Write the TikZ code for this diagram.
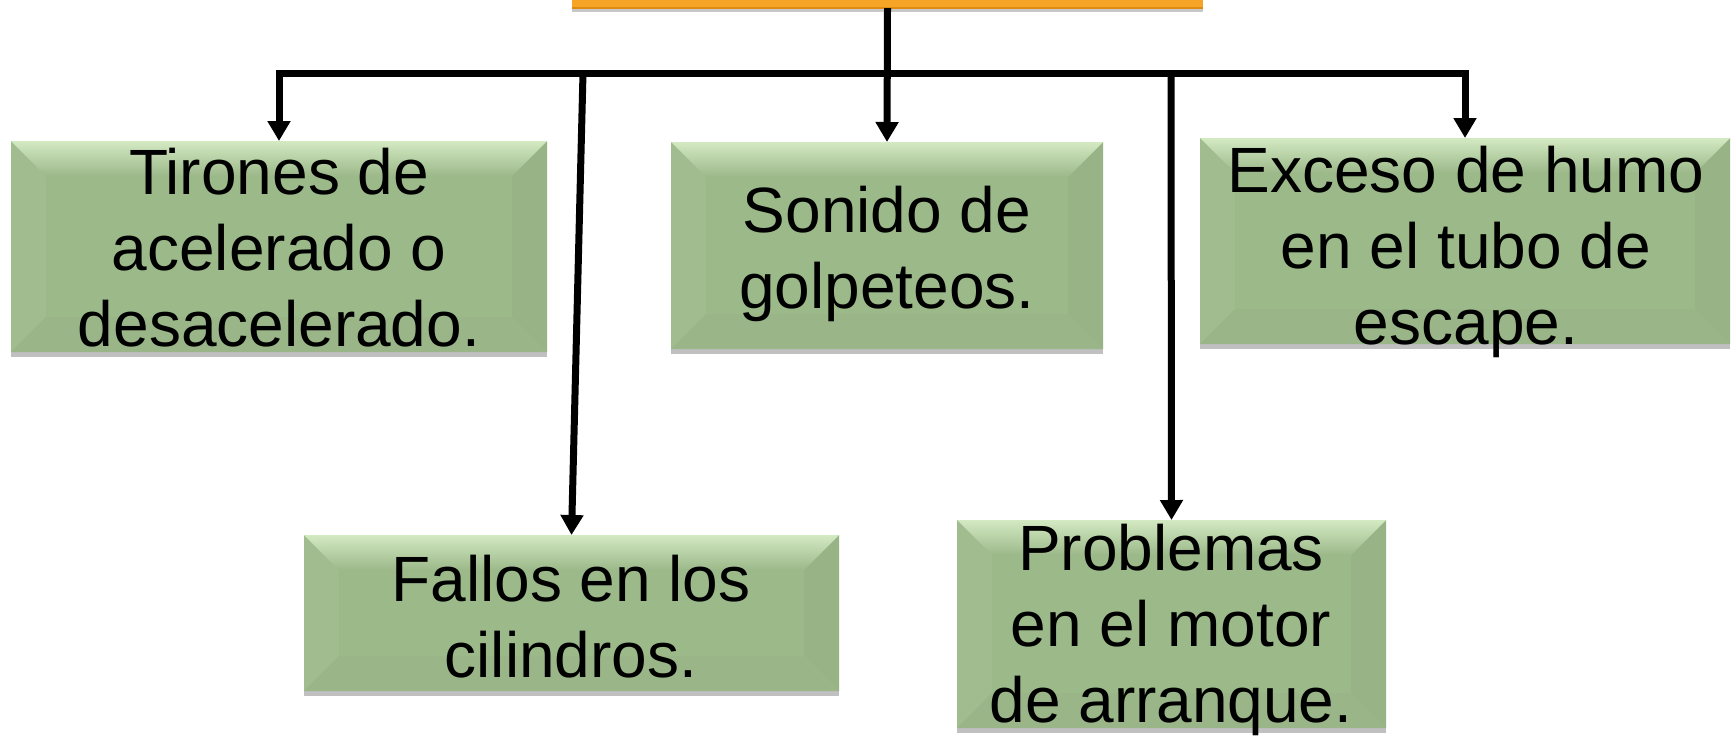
\documentclass[tikz,border=0pt]{standalone}
\usepackage{fontspec}
\setmainfont{Liberation Sans}
\usetikzlibrary{arrows.meta,shadows}
\definecolor{gface}{HTML}{9CB98A}
\definecolor{gtop}{HTML}{D3E9C2}
\definecolor{gleft}{HTML}{A1BC8E}
\definecolor{gright}{HTML}{98B486}
\definecolor{gbot}{HTML}{9AB688}
\definecolor{orfill}{HTML}{F5A425}
\definecolor{oredge}{HTML}{E08A12}
\newcommand\mlines[1]{\vtop{\halign{\hfil##\hfil\cr#1\crcr}}}
\begin{document}
\begin{tikzpicture}[x=1pt,y=-1pt,
  gbox/.style={draw=none, fill=gface, inner sep=0pt, outer sep=0pt,
    drop shadow={shadow xshift=0pt,shadow yshift=-5pt,opacity=0.35,fill=black!70},
    path picture={
      \coordinate (NW) at (path picture bounding box.north west);
      \coordinate (NE) at (path picture bounding box.north east);
      \coordinate (SW) at (path picture bounding box.south west);
      \coordinate (SE) at (path picture bounding box.south east);
      \fill[gleft] (NW) -- ([xshift=35pt,yshift=-35pt]NW) -- ([xshift=35pt,yshift=35pt]SW) -- (SW) -- cycle;
      \fill[gright] (NE) -- ([xshift=-35pt,yshift=-35pt]NE) -- ([xshift=-35pt,yshift=35pt]SE) -- (SE) -- cycle;
      \fill[gbot] (SW) -- ([xshift=35pt,yshift=35pt]SW) -- ([xshift=-35pt,yshift=35pt]SE) -- (SE) -- cycle;
      \fill[gface] ([xshift=35pt,yshift=-35pt]NW) rectangle ([xshift=-35pt,yshift=35pt]SE);
      \shade[top color=gtop,bottom color=gface] (NW) -- (NE) -- ([xshift=-35pt,yshift=-35pt]NE) -- ([xshift=35pt,yshift=-35pt]NW) -- cycle;
    }},
  txt/.style={inner sep=0pt, anchor=base, font=\fontsize{64}{76}\selectfont},
  conn/.style={line width=7pt, line join=miter},
  tip/.style={-{Triangle[length=20pt,width=22pt]}}
]
\useasboundingbox (0,0) rectangle (1736,739);
\fill[white] (0,0) rectangle (1736,739);

% top orange box (cut off at the top)
\node[draw=none, fill=orfill, minimum width=631pt, minimum height=40pt, inner sep=0pt,
      drop shadow={shadow xshift=0pt,shadow yshift=-4pt,opacity=0.3,fill=black!70}] (top) at (887.5,-12) {};
\draw[oredge, line width=2pt] (top.south west) -- (top.south east);

% green boxes
\node[gbox, minimum width=536pt, minimum height=211pt] (b1) at (279,246.5) {};
\node[gbox, minimum width=432pt, minimum height=207pt] (b3) at (887,245.5) {};
\node[gbox, minimum width=530pt, minimum height=206pt] (b4) at (1465,241) {};
\node[gbox, minimum width=535pt, minimum height=156pt] (b2) at (571.5,613) {};
\node[gbox, minimum width=429pt, minimum height=208pt] (b5) at (1171.5,624) {};

% texts
\node[txt] (t1) at (279,194) {\mlines{Tirones de\cr acelerado o\cr desacelerado.}};
\node[txt] (t3) at (887,232) {\mlines{Sonido de\cr golpeteos.}};
\node[txt] (t4) at (1466,192) {\mlines{Exceso de humo\cr en el tubo de\cr escape.}};
\node[txt] (t2) at (571,601) {\mlines{Fallos en los\cr cilindros.}};
\node[txt] (t5) at (1171,570) {\mlines{Problemas\cr en el motor\cr de arranque.}};

% connectors
\coordinate (jl) at (279,73);
\coordinate (jr) at (1465,73);
\coordinate (j2) at (583,73);
\coordinate (j5) at (1171,73);
\draw[conn, {Triangle[length=20pt,width=22pt]}-{Triangle[length=20pt,width=22pt]}] (b1.north) -- (jl) -- (jr) -- (b4.north);
\draw[conn, tip] (top.south) -- (b3.north);
\draw[conn, tip] (j2) -- (b2.north);
\draw[conn, tip] (j5) -- (b5.north);
\end{tikzpicture}
\end{document}
